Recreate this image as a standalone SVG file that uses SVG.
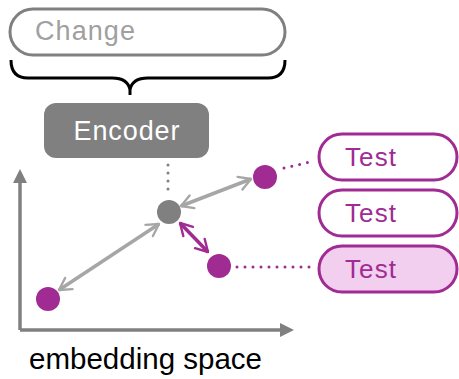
<svg xmlns="http://www.w3.org/2000/svg" width="459" height="379" viewBox="0 0 459 379">
<style>
text{font-family:"Liberation Sans",Arial,sans-serif}
.pill{fill:#fff;stroke:#A02B93;stroke-width:3}
.tl{fill:#A02B93;font-size:26px}
.dot{fill:#A02B93}
.pdots{stroke:#A02B93;stroke-width:3;stroke-linecap:round;stroke-dasharray:0 8;fill:none}
.garr{stroke:#A6A6A6;stroke-width:3.5;fill:none;marker-start:url(#ga);marker-end:url(#ga)}
.parr{stroke:#A02B93;stroke-width:3.5;fill:none;marker-start:url(#pa);marker-end:url(#pa)}
</style>
<defs>
<marker id="ga" viewBox="0 0 10 10" refX="9" refY="5" markerWidth="4.8" markerHeight="4.8" orient="auto-start-reverse" markerUnits="strokeWidth">
<path d="M2,1 L9,5 L2,9" fill="none" stroke="#A6A6A6" stroke-width="1.4" stroke-linecap="round" stroke-linejoin="round"/>
</marker>
<marker id="pa" viewBox="0 0 10 10" refX="9" refY="5" markerWidth="4.8" markerHeight="4.8" orient="auto-start-reverse" markerUnits="strokeWidth">
<path d="M2,1 L9,5 L2,9" fill="none" stroke="#A02B93" stroke-width="1.4" stroke-linecap="round" stroke-linejoin="round"/>
</marker>
<marker id="ax" viewBox="0 0 10 10" refX="5" refY="5" markerWidth="4" markerHeight="4" orient="auto" markerUnits="strokeWidth">
<path d="M0,0 L10,5 L0,10 Z" fill="#808080"/>
</marker>
</defs>
<g id="change">
<rect x="10" y="9" width="275" height="46" rx="23" fill="#fff" stroke="#808080" stroke-width="3"/>
<text x="35" y="40" font-size="27" fill="#A0A0A0" textLength="100">Change</text>
</g>
<g id="brace">
<path d="M11,60 Q11,78 28,78 L112,78 Q128,78 130,90 Q132,78 148,78 L268,78 Q285,78 285,60 M130,88 L130,95" fill="none" stroke="#000" stroke-width="3"/>
</g>
<g id="encoder">
<rect x="44" y="103" width="165" height="55" rx="12" fill="#808080"/>
<text x="126.5" y="139.5" font-size="27" fill="#fff" text-anchor="middle" textLength="106">Encoder</text>
</g>
<g id="axes">
<path d="M20,330 L20,176" stroke="#808080" stroke-width="3.5" fill="none" marker-end="url(#ax)"/>
<path d="M20,330 L287,330" stroke="#808080" stroke-width="3.5" fill="none" marker-end="url(#ax)"/>
<text x="29" y="369" font-size="29.5" fill="#000" textLength="233">embedding space</text>
</g>
<g id="connectors">
<path d="M168,165 L168,190" stroke="#808080" stroke-width="3" stroke-linecap="round" stroke-dasharray="0 8" fill="none"/>
<path class="garr" d="M181,206 L251,179"/>
<path class="garr" d="M159,224 L59,290"/>
<path class="parr" d="M180,223 L208,252"/>
<path class="pdots" d="M284,168 L310,162"/>
<path class="pdots" d="M237,267 L313,267"/>
</g>
<g id="center"><circle cx="169" cy="212" r="12" fill="#808080"/></g>
<g id="p1"><circle cx="265" cy="177" r="12" class="dot"/></g>
<g id="p2"><circle cx="219" cy="266" r="12" class="dot"/></g>
<g id="p3"><circle cx="48" cy="299" r="12" class="dot"/></g>
<g id="test1">
<rect class="pill" x="319" y="134" width="138" height="46" rx="23"/>
<text class="tl" x="345" y="166" textLength="51">Test</text>
</g>
<g id="test2">
<rect class="pill" x="319" y="190" width="138" height="46" rx="23"/>
<text class="tl" x="345" y="222" textLength="51">Test</text>
</g>
<g id="test3">
<rect class="pill" x="319" y="246" width="138" height="46" rx="23" style="fill:#F2CEEF"/>
<text class="tl" x="345" y="278" textLength="51">Test</text>
</g>
</svg>
